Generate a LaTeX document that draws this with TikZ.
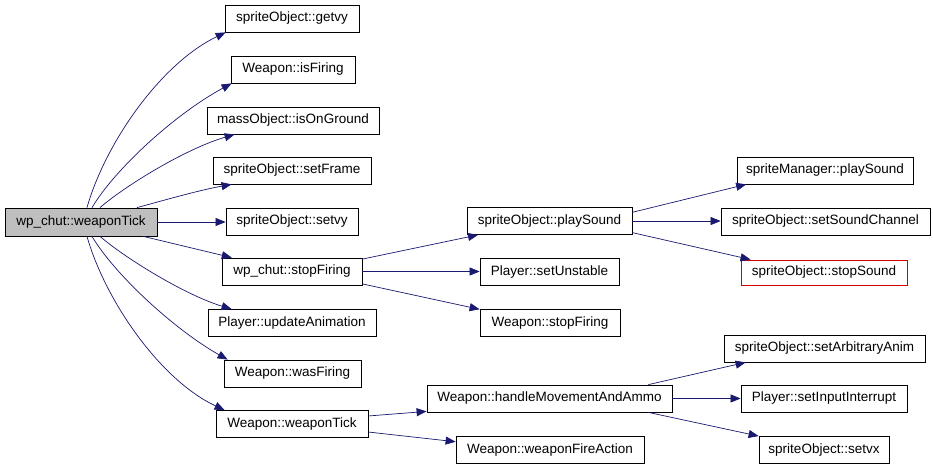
\documentclass[tikz,border=0pt]{standalone}
\usepackage{fontspec}
\setmainfont{Liberation Sans}
\usetikzlibrary{arrows.meta,calc}
\definecolor{edgecol}{HTML}{191970}
\definecolor{mainfill}{HTML}{BFBFBF}
\definecolor{redbox}{HTML}{D00000}
\begin{document}
\begin{tikzpicture}[x=1pt,y=-1pt,
  fn/.style={draw=black,line width=0.8pt,fill=white,inner sep=0pt,minimum height=27pt,font=\fontsize{13.5}{15}\selectfont,text=black},
  call/.style={draw=edgecol,line width=0.7pt,-{Triangle[length=10pt,width=8pt]},shorten >=0pt}]
\useasboundingbox (0,0) rectangle (933,468);
\fill[white] (0,0) rectangle (933,468);
% nodes
\node[fn,fill=mainfill,minimum width=152pt,minimum height=28pt] (main) at (81,222) {wp\_chut::weaponTick};
\node[fn,minimum width=134pt] (getvy) at (292,18.5) {spriteObject::getvy};
\node[fn,minimum width=124pt] (isfiring) at (293,69.5) {Weapon::isFiring};
\node[fn,minimum width=172pt] (onground) at (293,120.5) {massObject::isOnGround};
\node[fn,minimum width=158pt] (setframe) at (292,170.5) {spriteObject::setFrame};
\node[fn,minimum width=132pt] (setvy) at (292,221.5) {spriteObject::setvy};
\node[fn,minimum width=140pt] (stopf) at (292,271.5) {wp\_chut::stopFiring};
\node[fn,minimum width=168pt] (updanim) at (292,323) {Player::updateAnimation};
\node[fn,minimum width=137pt] (wasfiring) at (292.5,373.5) {Weapon::wasFiring};
\node[fn,minimum width=152pt] (wtick) at (292,424) {Weapon::weaponTick};
\node[fn,minimum width=165pt] (psound) at (549.5,221) {spriteObject::playSound};
\node[fn,minimum width=139pt] (unstable) at (549.5,272) {Player::setUnstable};
\node[fn,minimum width=140pt] (wstopf) at (550,323) {Weapon::stopFiring};
\node[fn,minimum width=245pt] (hma) at (549.5,398.5) {Weapon::handleMovementAndAmmo};
\node[fn,minimum width=188pt] (wfa) at (550,450) {Weapon::weaponFireAction};
\node[fn,minimum width=176pt] (smps) at (825,170.5) {spriteManager::playSound};
\node[fn,minimum width=209pt] (ssc) at (825.5,221.5) {spriteObject::setSoundChannel};
\node[fn,draw=redbox,line width=0.9pt,minimum width=166pt,minimum height=25pt] (ssound) at (824,272.5) {spriteObject::stopSound};
\node[fn,minimum width=201pt] (sarb) at (824.5,348.5) {spriteObject::setArbitraryAnim};
\node[fn,minimum width=166pt] (sii) at (824,398.5) {Player::setInputInterrupt};
\node[fn,minimum width=130pt] (svx) at (824,450) {spriteObject::setvx};
% curved calls from main
\draw[call] ($(main.north)+(6,0)$) .. controls (105,144) and (160,64) .. ($(getvy.south west)+(1,0)$);
\draw[call] ($(main.north)+(11,0)$) .. controls (115,169) and (175,114) .. ($(isfiring.south west)+(1,0)$);
\draw[call] ($(main.north)+(19,0)$) .. controls (125,186) and (185,149) .. ($(onground.south west)+(28,0)$);
\draw[call] ($(main.north)+(56,0)$) .. controls (165,200) and (200,190) .. ($(setframe.south west)+(19,0)$);
\draw[call] (main.east) -- (main.east -| setvy.west);
\draw[call] (main.-13.3) -- (stopf.167);
\draw[call] ($(main.south)+(19,0)$) .. controls (125,258) and (185,295) .. ($(updanim.north west)+(24,0)$);
\draw[call] ($(main.south)+(11,0)$) .. controls (115,275) and (175,330) .. ($(wasfiring.north west)+(4,0)$);
\draw[call] ($(main.south)+(6,0)$) .. controls (105,300) and (160,380) .. ($(wtick.north west)+(9,0)$);
% second level
\draw[call] (stopf.10) -- (psound.191);
\draw[call] (stopf.east) -- (stopf.east -| unstable.west);
\draw[call] (stopf.-10.1) -- (wstopf.169);
\draw[call] (psound.6.2) -- (smps.190.5);
\draw[call] (psound.east) -- (psound.east -| ssc.west);
\draw[call] (psound.-8.2) -- (ssound.170.2);
\draw[call] (wtick.6) -- (hma.186.3);
\draw[call] (wtick.-6.8) -- (wfa.175.1);
\draw[call] (hma.8.5) -- (sarb.190.3);
\draw[call] (hma.east) -- (hma.east -| sii.west);
\draw[call] (hma.-8.5) -- (svx.168);
\end{tikzpicture}
\end{document}
